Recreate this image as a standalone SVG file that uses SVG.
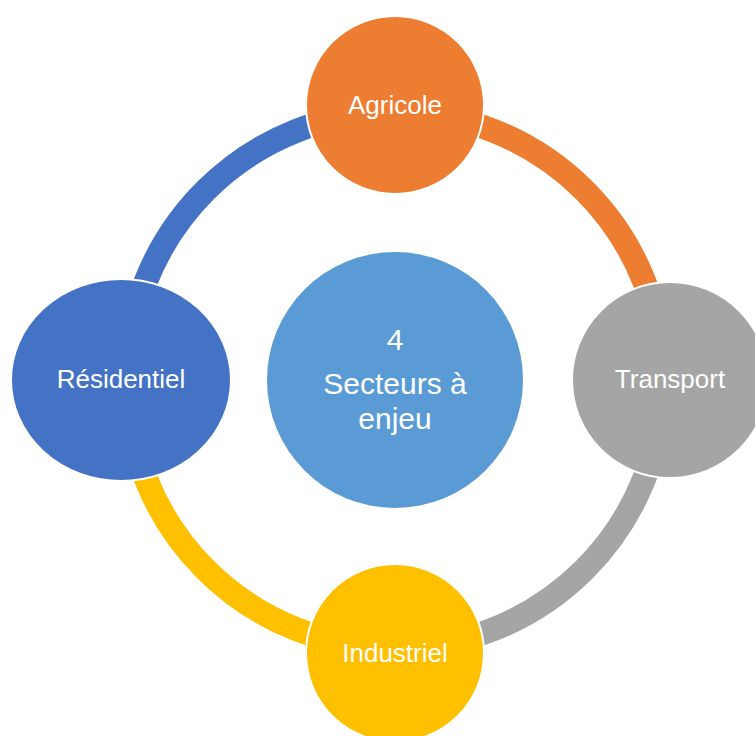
<svg xmlns="http://www.w3.org/2000/svg" width="755" height="736" viewBox="0 0 755 736">
  <style>
    .ring { fill: none; stroke-width: 24; }
    .node { stroke: #FFFFFF; stroke-width: 2; }
    .label { font-family: "Liberation Sans", Arial, sans-serif; font-size: 26px; fill: #FFFFFF; text-anchor: middle; }
    .hub { font-family: "Liberation Sans", Arial, sans-serif; font-size: 30px; fill: #FFFFFF; text-anchor: middle; }
  </style>
  <rect width="755" height="736" fill="#FFFFFF"/>

  <!-- ring segments joining the four sectors -->
  <g id="connectors">
    <path class="ring" stroke="#4472C4" d="M 127 380 A 268 268 0 0 1 395 112"/>
    <path class="ring" stroke="#ED7D31" d="M 395 112 A 268 268 0 0 1 663 380"/>
    <path class="ring" stroke="#A5A5A5" d="M 663 380 A 268 268 0 0 1 395 648"/>
    <path class="ring" stroke="#FFC000" d="M 395 648 A 268 268 0 0 1 127 380"/>
  </g>

  <g id="hub">
    <circle cx="395" cy="380" r="128" fill="#5B9BD5"/>
    <text class="hub" x="395" y="350">4</text>
    <text class="hub" x="395" y="394">Secteurs à</text>
    <text class="hub" x="395" y="428.5">enjeu</text>
  </g>

  <g id="agricole">
    <circle class="node" cx="395" cy="105" r="89" fill="#ED7D31"/>
    <text class="label" x="395" y="114">Agricole</text>
  </g>

  <g id="transport">
    <circle class="node" cx="670" cy="380" r="98" fill="#A5A5A5"/>
    <text class="label" x="670" y="388">Transport</text>
  </g>

  <g id="industriel">
    <circle class="node" cx="395" cy="653" r="89" fill="#FFC000"/>
    <text class="label" x="395" y="662">Industriel</text>
  </g>

  <g id="residentiel">
    <ellipse class="node" cx="121" cy="380" rx="110" ry="101" fill="#4472C4"/>
    <text class="label" x="121" y="388">Résidentiel</text>
  </g>
</svg>
